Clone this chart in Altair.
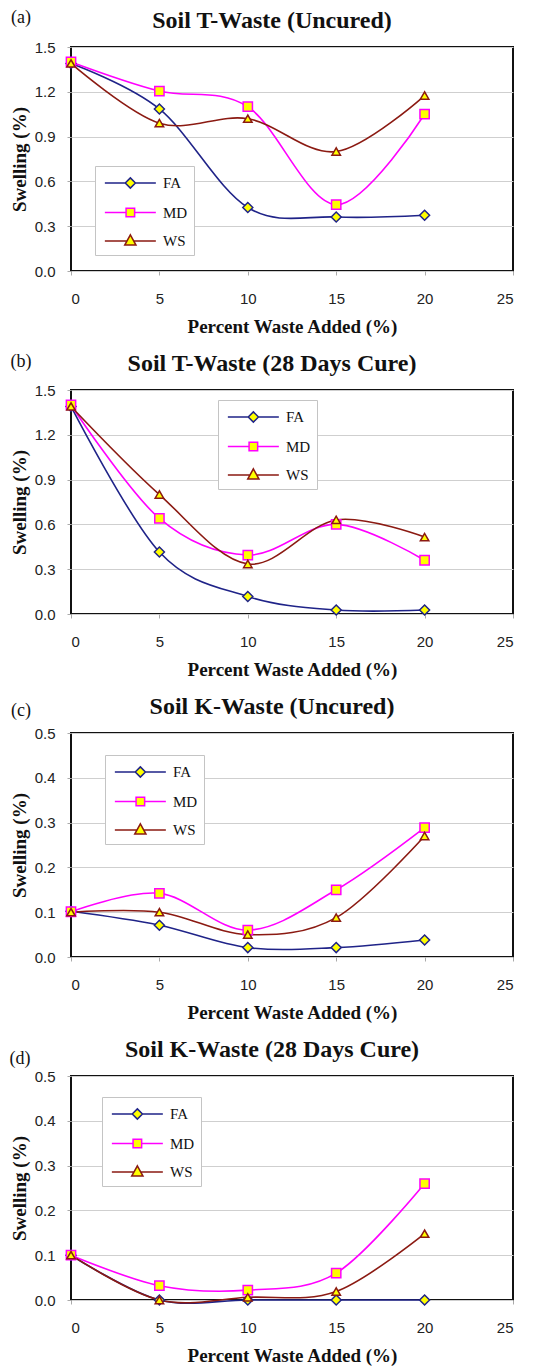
import altair as alt
import pandas as pd

waste = [0, 5, 10, 15, 20]
series_names = ["FA", "MD", "WS"]

# (a) Soil T-Waste (Uncured)
a_fa = [1.39, 1.085, 0.425, 0.362, 0.373]
a_md = [1.40, 1.205, 1.10, 0.445, 1.05]
a_ws = [1.39, 0.99, 1.02, 0.80, 1.175]
# (b) Soil T-Waste (28 Days Cure)
b_fa = [1.39, 0.415, 0.117, 0.027, 0.027]
b_md = [1.40, 0.64, 0.395, 0.60, 0.36]
b_ws = [1.39, 0.80, 0.335, 0.63, 0.515]
# (c) Soil K-Waste (Uncured)
c_fa = [0.102, 0.071, 0.021, 0.021, 0.038]
c_md = [0.101, 0.142, 0.06, 0.15, 0.289]
c_ws = [0.10, 0.10, 0.05, 0.088, 0.27]
# (d) Soil K-Waste (28 Days Cure)
d_fa = [0.10, 0.0, 0.0, 0.0, 0.0]
d_md = [0.10, 0.032, 0.022, 0.06, 0.26]
d_ws = [0.10, 0.0, 0.006, 0.019, 0.148]

titles = ["Soil T-Waste (Uncured)", "Soil T-Waste (28 Days Cure)",
          "Soil K-Waste (Uncured)", "Soil K-Waste (28 Days Cure)"]
tags = ["(a)", "(b)", "(c)", "(d)"]
ymax = [1.5, 1.5, 0.5, 0.5]
ystep = [0.3, 0.3, 0.1, 0.1]
x_ticks = [0, 5, 10, 15, 20, 25]

line_colors = ["#1F2388", "#FF00FF", "#8B1A12"]
marker_shapes = ["diamond", "square", "triangle-up"]
marker_sizes = [100, 72, 150]
legend_paths = [
    "M-0.7,0H1.3M2.3,0H4.3M1.8,-0.5L2.3,0L1.8,0.5L1.3,0Z",
    "M-0.7,0H1.38M2.22,0H4.3M1.38,-0.42H2.22V0.42H1.38Z",
    "M-0.7,0H1.47M2.13,0H4.3M1.8,-0.6L2.35,0.4H1.25Z",
]
legend_pos = [(24, 119), (147, 10), (34, 22), (31, 21)]
tag_pos = [(-50, -29), (-50, -28), (-50, -22), (-51, -17)]
title_pos = (201, -26)

panels_data = [(a_fa, a_md, a_ws), (b_fa, b_md, b_ws), (c_fa, c_md, c_ws), (d_fa, d_md, d_ws)]

SERIF = "Liberation Serif"
SANS = "Liberation Sans"


def make_panel(i):
    rows = []
    for name, vals in zip(series_names, panels_data[i]):
        for xv, yv in zip(waste, vals):
            rows.append({"waste": xv, "swelling": yv, "series": name})
    df = pd.DataFrame(rows)
    ticks = [round(k * ystep[i], 2) for k in range(6)]
    x = alt.X("waste:Q", scale=alt.Scale(domain=[0, 25], nice=False),
              axis=alt.Axis(values=x_ticks, title="Percent Waste Added (%)", grid=False,
                            format="d"))
    y = alt.Y("swelling:Q", scale=alt.Scale(domain=[0, ymax[i]], nice=False),
              axis=alt.Axis(values=ticks, title="Swelling (%)", grid=True, format=".1f"))
    cscale = alt.Scale(domain=series_names, range=line_colors)
    base = alt.Chart(df)
    lines = base.mark_line(interpolate="cardinal", strokeWidth=1.6).encode(
        x=x, y=y, color=alt.Color("series:N", scale=cscale, legend=None),
        detail="series:N")
    pts = base.mark_point(filled=False, strokeWidth=1.5, opacity=1).encode(
        x=x, y=y,
        color=alt.Color("series:N", scale=cscale, legend=None),
        shape=alt.Shape("series:N", scale=alt.Scale(domain=series_names, range=marker_shapes), legend=None),
        size=alt.Size("series:N", scale=alt.Scale(domain=series_names, range=marker_sizes), legend=None),
        fill=alt.value("#FFFF00"))
    lx, ly = legend_pos[i]
    leg = alt.Legend(title=None, orient="none", legendX=lx, legendY=ly,
                     symbolSize=416, symbolStrokeWidth=1.5, symbolOpacity=1,
                     labelFont=SERIF, labelFontSize=15, labelColor="#111",
                     labelOffset=40, rowPadding=9.5, padding=6,
                     fillColor="white", strokeColor="#c4c4c4")
    dummy = base.mark_point(filled=False, strokeWidth=1.5, opacity=0).encode(
        x=x, y=y,
        color=alt.Color("series:N", scale=cscale, legend=leg),
        shape=alt.Shape("series:N", scale=alt.Scale(domain=series_names, range=legend_paths), legend=leg),
        fill=alt.value("#FFFF00"))
    tx, ty = tag_pos[i]
    tag = alt.Chart(pd.DataFrame({"tag": [tags[i]]})).mark_text(
        font=SERIF, fontSize=18, color="#111", align="center", baseline="middle").encode(
        text="tag:N", x=alt.value(tx), y=alt.value(ty))
    head = alt.Chart(pd.DataFrame({"head": [titles[i]]})).mark_text(
        font=SERIF, fontSize=24, fontWeight="bold", color="#111", align="center",
        baseline="middle").encode(
        text="head:N", x=alt.value(title_pos[0]), y=alt.value(title_pos[1]))
    return alt.layer(lines, pts, dummy, tag, head).resolve_scale(
        color="independent", shape="independent", size="independent").properties(
        width=442, height=224)


chart = alt.vconcat(*[make_panel(i) for i in range(4)], spacing=14).properties(
    padding=0).configure(
    background="white").configure_view(
    stroke="#111", strokeWidth=2).configure_axis(
    labelFont=SANS, labelFontSize=15, labelColor="#222", tickColor="#aaa", tickSize=4,
    domain=False, gridColor="#cfcfcf", gridWidth=1.2,
    titleFont=SERIF, titleFontSize=19, titleFontWeight="bold", titleColor="#111").configure_axisX(
    labelPadding=16, titlePadding=11).configure_axisY(
    labelPadding=12, titlePadding=5)

chart.save("out.html", embed_options={"renderer": "svg", "actions": False})
